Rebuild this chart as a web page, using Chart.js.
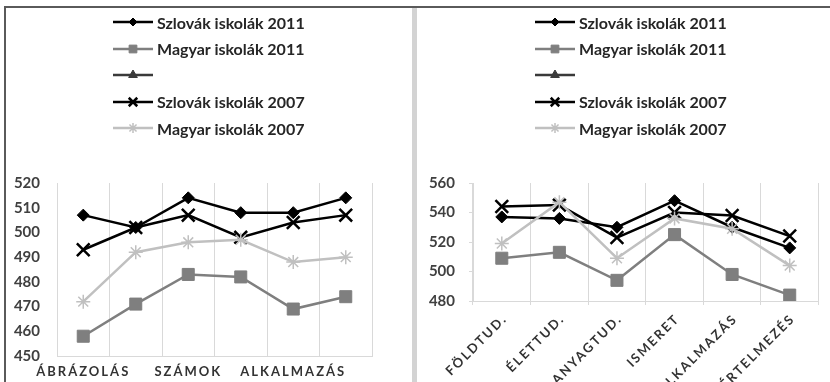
<!DOCTYPE html>
<html>
<head>
<meta charset="utf-8">
<script src="https://cdn.jsdelivr.net/npm/chart.js@4/dist/chart.umd.min.js"></script>
<style>
  body { margin: 0; width: 830px; height: 382px; background: #fff; position: relative; overflow: hidden; font-family: Lato, sans-serif; }
  .frame-top { position: absolute; left: 4px; top: 6px; width: 826px; height: 2px; background: #5a5a5a; }
  .frame-left { position: absolute; left: 4px; top: 6px; width: 2px; height: 376px; background: #5a5a5a; }
  .divider { position: absolute; left: 412px; top: 8px; width: 5px; height: 374px; background: #d3d3d3; }
  canvas { position: absolute; }
  #chart-left { left: 6px; top: 8px; }
  #chart-right { left: 417px; top: 8px; }
  .legend { position: absolute; top: 9px; }
  .legend-row { height: 26.5px; display: flex; align-items: center; }
  .legend-row canvas { position: static; margin-right: 4px; }
  .legend-row span { font: bold 16px Lato, sans-serif; color: #262626; white-space: nowrap; }
</style>
</head>
<body>
<div class="frame-top"></div>
<div class="frame-left"></div>
<div class="divider"></div>
<div class="legend" id="legend-left" style="left:113px"></div>
<div class="legend" id="legend-right" style="left:535px"></div>
<canvas id="chart-left" width="406" height="374"></canvas>
<canvas id="chart-right" width="413" height="374"></canvas>
<script>
// kategóriák
const labelsLeft = ['ÁBRÁZOLÁS', '', 'SZÁMOK', '', 'ALKALMAZÁS', ''];
const labelsRight = ['FÖLDTUD.', 'ÉLETTUD.', 'ANYAGTUD.', 'ISMERET', 'ALKALMAZÁS', 'ÉRTELMEZÉS'];

// sorozatok neve (a harmadiknak nincs neve)
const seriesNames = ['Szlovák iskolák 2011', 'Magyar iskolák 2011', '', 'Szlovák iskolák 2007', 'Magyar iskolák 2007'];

// bal oldali grafikon
const leftSzlovak2011 = [507, 502, 514, 508, 508, 514];
const leftMagyar2011 = [458, 471, 483, 482, 469, 474];
const leftEmpty = [null, null, null, null, null, null];
const leftSzlovak2007 = [493, 502, 507, 498, 504, 507];
const leftMagyar2007 = [472, 492, 496, 497, 488, 490];

// jobb oldali grafikon
const rightSzlovak2011 = [537, 536, 530, 548, 530, 516];
const rightMagyar2011 = [509, 513, 494, 525, 498, 484];
const rightEmpty = [null, null, null, null, null, null];
const rightSzlovak2007 = [544, 545, 523, 540, 538, 524];
const rightMagyar2007 = [519, 547, 509, 536, 529, 504];

// tengely beosztás: min, max, lépés
const leftTicks = [450, 520, 10];
const rightTicks = [480, 560, 20];

// megjelenés
const seriesStyles = [
    { color: '#000000', point: 'rectRot', radius: 6, pointBorder: 1, line: 2.5, legendRadius: 4 },
    { color: '#7f7f7f', point: 'rect', radius: 8.5, pointBorder: 1, line: 2.5, legendRadius: 5.5 },
    { color: '#3a3a3a', point: 'triangle', radius: 6, pointBorder: 1, line: 2.5, legendRadius: 5 },
    { color: '#000000', point: 'crossRot', radius: 9, pointBorder: 2.5, line: 2.5, legendRadius: 6 },
    { color: '#c0c0c0', point: 'star', radius: 7, pointBorder: 1.5, line: 2.5, legendRadius: 5 }
];

// betűköz a vízszintes tengely feliratainál
const tickSpacing = {
    id: 'tickSpacing',
    afterDatasetsDraw(chart) { chart.ctx.letterSpacing = '2px'; },
    afterDraw(chart) { chart.ctx.letterSpacing = '0px'; }
};

function buildDatasets(values) {
    return values.map((data, i) => {
        const s = seriesStyles[i];
        return {
            label: seriesNames[i],
            data: data,
            order: values.length - i,
            borderColor: s.color,
            backgroundColor: s.color,
            borderWidth: s.line,
            pointStyle: s.point,
            pointRadius: s.radius,
            pointBorderWidth: s.pointBorder,
            pointBackgroundColor: s.color,
            pointBorderColor: s.color,
            tension: 0
        };
    });
}

function buildLegend(id) {
    const box = document.getElementById(id);
    seriesNames.forEach((name, i) => {
        const s = seriesStyles[i];
        const row = document.createElement('div');
        row.className = 'legend-row';
        const icon = document.createElement('canvas');
        icon.width = 40;
        icon.height = 16;
        const ctx = icon.getContext('2d');
        ctx.strokeStyle = s.color;
        ctx.fillStyle = s.color;
        ctx.lineWidth = 2.5;
        ctx.beginPath();
        ctx.moveTo(0, 8);
        ctx.lineTo(40, 8);
        ctx.stroke();
        ctx.lineWidth = s.pointBorder;
        Chart.helpers.drawPoint(ctx, { pointStyle: s.point, radius: s.legendRadius, rotation: 0, borderWidth: s.pointBorder }, 20, 8);
        const text = document.createElement('span');
        text.textContent = name;
        row.appendChild(icon);
        row.appendChild(text);
        box.appendChild(row);
    });
}

function makeChart(id, labels, values, ticks, cfg) {
    return new Chart(document.getElementById(id), {
        type: 'line',
        data: { labels: labels, datasets: buildDatasets(values) },
        options: {
            responsive: false,
            animation: false,
            events: [],
            layout: { padding: { top: 175, left: 0, right: cfg.padRight, bottom: 0 } },
            plugins: { legend: { display: false }, tooltip: { enabled: false } },
            scales: {
                x: {
                    offset: true,
                    grid: { offset: true, color: '#d9d9d9', drawTicks: cfg.xTickMarks, tickLength: 4 },
                    border: { color: '#d9d9d9' },
                    ticks: {
                        autoSkip: false,
                        minRotation: cfg.rotation,
                        maxRotation: cfg.rotation,
                        padding: cfg.xPad,
                        labelOffset: cfg.labelOffset,
                        color: '#333333',
                        font: { family: 'Lato', size: 13, weight: 'bold' },
                        z: 1
                    },
                    afterFit: scale => { scale.height = cfg.xHeight; }
                },
                y: {
                    min: ticks[0],
                    max: ticks[1],
                    grid: { drawOnChartArea: false, drawTicks: cfg.yTickMarks, tickLength: 4, color: '#d9d9d9' },
                    border: { color: '#d9d9d9' },
                    ticks: {
                        stepSize: ticks[2],
                        padding: cfg.yPad,
                        color: '#404040',
                        font: { family: 'Lato', size: 15, weight: 'bold' }
                    },
                    afterFit: scale => { scale.width = cfg.yWidth; }
                }
            }
        },
        plugins: [tickSpacing]
    });
}

window.addEventListener('load', () => {
    buildLegend('legend-left');
    buildLegend('legend-right');

    makeChart('chart-left', labelsLeft,
        [leftSzlovak2011, leftMagyar2011, leftEmpty, leftSzlovak2007, leftMagyar2007],
        leftTicks,
        { padRight: 40, xHeight: 25, yWidth: 51, rotation: 0, xPad: 8, labelOffset: 0, xTickMarks: false, yTickMarks: false, yPad: 17 });

    makeChart('chart-right', labelsRight,
        [rightSzlovak2011, rightMagyar2011, rightEmpty, rightSzlovak2007, rightMagyar2007],
        rightTicks,
        { padRight: 9, xHeight: 81, yWidth: 56, rotation: 45, xPad: 6, labelOffset: 3, xTickMarks: true, yTickMarks: true, yPad: 14 });
});
</script>
</body>
</html>
